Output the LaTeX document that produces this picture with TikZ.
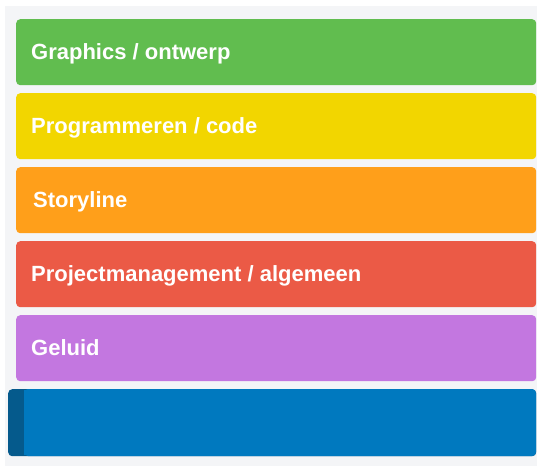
\documentclass[tikz,border=0pt]{standalone}
\usepackage{fontspec}
\setmainfont{Liberation Sans}
\definecolor{bgc}{HTML}{F4F5F7}
\definecolor{cgreen}{HTML}{61BD4F}
\definecolor{cyellow}{HTML}{F2D600}
\definecolor{corange}{HTML}{FF9F1A}
\definecolor{cred}{HTML}{EB5A46}
\definecolor{cpurple}{HTML}{C377E0}
\definecolor{cblue}{HTML}{0079BF}
\definecolor{cbluedark}{HTML}{055A8C}
\tikzset{
  labelbox/.style={rounded corners=4pt, inner sep=0pt, minimum height=66pt, minimum width=520pt, anchor=north west},
  labeltext/.style={text=white, font=\bfseries\fontsize{22}{26}\selectfont, anchor=base west, inner sep=0pt}
}
\begin{document}
\begin{tikzpicture}[x=1pt,y=-1pt]
\useasboundingbox (0,0) rectangle (537,466);
\fill[white] (0,0) rectangle (537,466);
\fill[bgc] (5,6) rectangle (537,466);
\node[labelbox, fill=cgreen] (b1) at (16,19) {};
\node[labelbox, fill=cyellow] (b2) at (16,93) {};
\node[labelbox, fill=corange] (b3) at (16,167) {};
\node[labelbox, fill=cred] (b4) at (16,241) {};
\node[labelbox, fill=cpurple] (b5) at (16,315) {};
\node[labelbox, fill=cbluedark, minimum width=528pt, minimum height=67pt] (b6) at (8,389) {};
\fill[cblue, rounded corners=4pt] (24,389) rectangle (536,456);
\fill[cblue] (24,390) rectangle (28,455);
\node[labeltext] (t1) at (31,59) {Graphics / ontwerp};
\node[labeltext] (t2) at (31,133) {Programmeren / code};
\node[labeltext] (t3) at (33,207) {Storyline};
\node[labeltext] (t4) at (31,281) {Projectmanagement / algemeen};
\node[labeltext] (t5) at (31,355) {Geluid};
\end{tikzpicture}
\end{document}
